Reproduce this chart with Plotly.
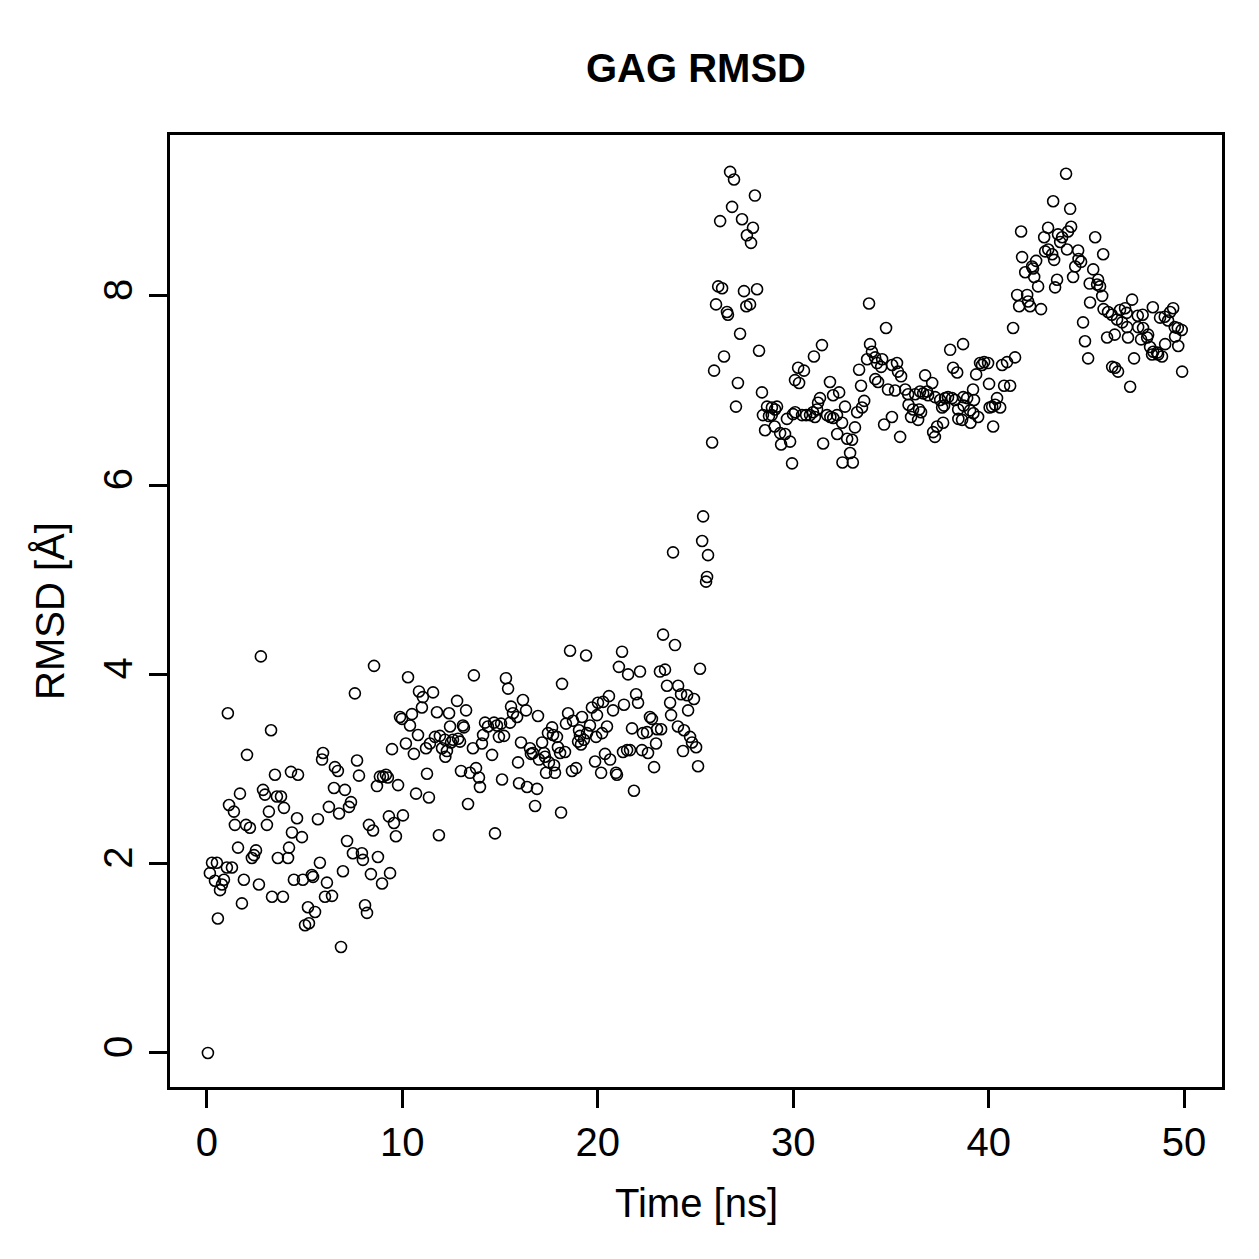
import plotly.graph_objects as go

# (time [ns], RMSD [Å]) pairs, grouped by time window
seg_00_05 = [(0.05,0.00),(0.15,1.90),(0.26,2.01),(0.41,1.82),(0.51,2.01),(0.56,1.42),(0.67,1.72),(0.77,1.78),(0.87,1.83),(1.02,1.96),
             (1.07,3.59),(1.13,2.62),(1.28,1.96),(1.38,2.55),(1.43,2.41),(1.59,2.17),(1.69,2.74),(1.79,1.58),(1.89,1.83),(2.00,2.41),
             (2.05,3.15),(2.20,2.38),(2.30,2.06),(2.41,2.09),(2.51,2.14),(2.66,1.78),(2.76,4.19),(2.87,2.78),(2.97,2.73),(3.07,2.41),
             (3.17,2.55),(3.28,3.41),(3.33,1.65),(3.48,2.94),(3.58,2.71),(3.63,2.06),(3.79,2.71),(3.89,1.65),(3.94,2.59),(4.15,2.06),
             (4.20,2.17),(4.30,2.97),(4.35,2.33),(4.45,1.83),(4.61,2.48),(4.66,2.94),(4.86,2.28),(4.91,1.83),(5.02,1.35)]
seg_05_10 = [(5.17,1.54),(5.22,1.37),(5.37,1.88),(5.43,1.86),(5.53,1.49),(5.68,2.47),(5.78,2.01),(5.89,3.10),(5.94,3.17),(6.04,1.65),
             (6.14,1.80),(6.24,2.60),(6.40,1.66),(6.50,2.80),(6.55,3.02),(6.70,2.98),(6.76,2.53),(6.86,1.12),(6.96,1.92),(7.06,2.78),
             (7.17,2.24),(7.27,2.60),(7.37,2.65),(7.47,2.11),(7.57,3.80),(7.68,3.09),(7.78,2.93),(7.93,2.11),(7.98,2.04),(8.09,1.56),
             (8.19,1.48),(8.29,2.41),(8.39,1.89),(8.50,2.35),(8.55,4.09),(8.70,2.82),(8.75,2.07),(8.85,2.92),(8.96,1.79),(9.01,2.92),
             (9.16,2.94),(9.26,2.91),(9.31,2.50),(9.37,1.90),(9.47,3.21),(9.57,2.43),(9.67,2.29),(9.78,2.83),(9.88,3.55),(9.98,3.53),
             (10.03,2.51)]
seg_10_15 = [(10.18,3.27),(10.29,3.97),(10.39,3.46),(10.49,3.58),(10.59,3.16),(10.70,2.74),(10.80,3.36),(10.85,3.82),(11.00,3.65),
             (11.05,3.76),(11.21,3.22),(11.26,2.95),(11.36,2.70),(11.41,3.27),(11.57,3.81),(11.67,3.34),(11.77,3.60),(11.87,2.30),
             (11.92,3.35),(12.03,3.22),(12.18,3.31),(12.20,3.13),(12.28,3.19),(12.39,3.59),(12.44,3.45),(12.49,3.28),(12.59,3.31),
             (12.80,3.72),(12.85,3.32),(12.95,3.29),(13.00,2.98),(13.10,3.46),(13.15,3.44),(13.26,3.62),(13.36,2.63),(13.46,2.96),
             (13.61,3.22),(13.66,3.99),(13.77,3.01),(13.92,2.91),(13.97,2.81),(14.07,3.27),(14.13,3.36),(14.23,3.49),(14.38,3.45),
             (14.59,3.15),(14.69,3.49),(14.74,2.32),(14.84,3.46),(14.94,3.34),(15.05,3.48),(15.10,2.89)]
seg_15_20 = [(15.20,3.35),(15.30,3.96),(15.41,3.85),(15.51,3.49),(15.56,3.66),(15.66,3.59),(15.87,3.55),(15.92,3.07),(15.97,2.85),
             (16.07,3.28),(16.17,3.73),(16.33,3.62),(16.38,2.81),(16.53,3.22),(16.58,3.16),(16.68,3.17),(16.79,2.61),(16.89,2.79),
             (16.94,3.56),(16.99,3.10),(17.15,3.28),(17.25,3.17),(17.30,3.13),(17.35,2.96),(17.45,3.38),(17.50,3.07),(17.66,3.44),
             (17.71,3.36),(17.76,3.04),(17.81,2.96),(17.91,3.34),(17.96,3.23),(18.07,3.17),(18.12,2.54),(18.17,3.90),(18.32,3.18),
             (18.37,3.48),(18.48,3.59),(18.58,4.25),(18.68,2.98),(18.73,3.51),(18.89,3.01),(18.99,3.29),(19.04,3.41),(19.09,3.35),
             (19.14,3.26),(19.19,3.55),(19.29,3.31),(19.40,4.20),(19.45,3.38),(19.60,3.46),(19.70,3.65),(19.86,3.08),(19.91,3.34),
             (19.96,3.57),(20.01,3.70)]
seg_20_26 = [(20.17,2.96),(20.22,3.38),(20.27,3.71),(20.37,3.16),(20.47,3.45),(20.57,3.77),(20.63,3.10),(20.78,3.62),(20.93,2.96),
             (20.98,2.94),(21.08,4.08),(21.24,4.24),(21.29,3.18),(21.34,3.68),(21.50,3.20),(21.55,4.00),(21.65,3.20),(21.75,3.43),
             (21.85,2.77),(21.96,3.79),(22.06,3.70),(22.16,4.03),(22.26,3.20),(22.31,3.38),(22.52,3.39),(22.57,3.17),(22.67,3.55),
             (22.77,3.53),(22.88,3.02),(22.98,3.27),(23.03,3.42),(23.18,4.03),(23.24,3.42),(23.34,4.42),(23.44,4.05),(23.54,3.88),
             (23.70,3.70),(23.75,3.57),(23.85,5.29),(23.95,4.31),(24.10,3.45),(24.11,3.88),(24.26,3.79),(24.36,3.19),(24.41,3.41),
             (24.57,3.78),(24.62,3.62),(24.72,3.34),(24.82,3.28),(24.92,3.74),(25.03,3.23),(25.13,3.03),(25.23,4.06),(25.34,5.41),
             (25.39,5.67),(25.54,4.98),(25.59,5.03),(25.64,5.26)]
seg_26_30 = [(25.85,6.45),(25.95,7.21),(26.05,7.91),(26.16,8.10),(26.26,8.79),(26.36,8.08),(26.46,7.36),(26.61,7.83),(26.66,7.80),
             (26.77,9.31),(26.87,8.94),(26.97,9.23),(27.07,6.83),(27.17,7.08),(27.28,7.60),(27.38,8.81),(27.48,8.05),(27.60,7.89),
             (27.63,8.64),(27.79,7.91),(27.84,8.56),(27.94,8.72),(28.04,9.06),(28.15,8.07),(28.25,7.42),(28.40,6.98),(28.45,6.74),
             (28.56,6.58),(28.66,6.83),(28.76,6.73),(28.90,6.74),(28.91,6.82),(29.05,6.62),(29.07,6.80),(29.17,6.83),(29.33,6.55),
             (29.38,6.43),(29.58,6.54),(29.68,6.70),(29.84,6.46),(29.94,6.23),(29.99,6.75)]
seg_30_35 = [(30.09,7.11),(30.10,6.77),(30.25,7.24),(30.30,7.08),(30.45,6.74),(30.55,7.21),(30.66,6.74),(30.86,6.74),(31.01,6.77),
             (31.06,7.36),(31.11,6.72),(31.22,6.80),(31.27,6.87),(31.37,6.92),(31.47,7.48),(31.53,6.44),(31.73,6.74),(31.88,7.09),
             (31.90,6.72),(32.04,6.95),(32.05,6.71),(32.24,6.74),(32.25,6.54),(32.35,6.98),(32.50,6.66),(32.52,6.24),(32.65,6.83),
             (32.76,6.49),(32.91,6.34),(33.01,6.48),(33.05,6.24),(33.16,6.61),(33.27,6.77),(33.37,7.22),(33.47,7.05),(33.52,6.82),
             (33.63,6.89),(33.78,7.33),(33.88,7.92),(33.93,7.49),(34.03,7.41),(34.19,7.35),(34.20,7.12),(34.29,7.29),(34.34,7.09),
             (34.50,7.25),(34.55,7.33),(34.65,6.64),(34.75,7.66),(34.85,7.01),(35.05,6.72),(35.06,7.27),(35.21,7.00),(35.31,7.29)]
seg_35_40 = [(35.36,7.20),(35.47,6.51),(35.52,7.15),(35.73,7.01),(35.88,6.96),(35.90,6.85),(36.03,6.72),(36.13,6.80),(36.24,6.96),
             (36.39,6.69),(36.44,6.80),(36.49,6.99),(36.54,6.77),(36.65,6.97),(36.75,7.16),(36.85,6.99),(36.90,6.95),(37.11,7.08),
             (37.16,6.56),(37.25,6.51),(37.26,6.93),(37.36,6.62),(37.52,6.90),(37.62,6.82),(37.67,6.66),(37.72,6.84),(37.77,6.92),
             (37.92,6.93),(38.03,7.43),(38.13,6.92),(38.18,7.24),(38.28,6.90),(38.39,7.19),(38.44,6.80),(38.45,6.70),(38.64,6.69),
             (38.69,7.49),(38.70,6.93),(38.72,6.84),(38.90,6.92),(39.05,6.79),(39.07,6.66),(39.20,7.01),(39.22,6.76),(39.25,6.90),
             (39.36,7.17),(39.46,6.72),(39.56,7.29),(39.66,7.27),(39.77,7.30),(39.97,7.29),(40.02,7.07),(40.05,6.82),(40.18,6.83),
             (40.23,6.62),(40.33,6.85),(40.43,6.92)]
seg_40_46 = [(40.59,6.82),(40.69,7.27),(40.79,7.05),(40.94,7.30),(41.10,7.05),(41.25,7.66),(41.35,7.35),(41.46,8.01),(41.56,7.89),
             (41.66,8.68),(41.71,8.41),(41.87,8.25),(41.97,8.01),(42.02,7.94),(42.12,7.89),(42.22,8.31),(42.27,8.29),(42.33,8.20),
             (42.43,8.37),(42.53,8.10),(42.68,7.86),(42.84,8.62),(42.89,8.47),(43.04,8.72),(43.05,8.49),(43.25,8.44),(43.30,9.00),
             (43.35,8.38),(43.40,8.09),(43.50,8.17),(43.55,8.65),(43.66,8.57),(43.76,8.62),(43.96,9.29),(44.01,8.49),(44.06,8.68),
             (44.17,8.92),(44.22,8.73),(44.32,8.20),(44.43,8.31),(44.58,8.48),(44.60,8.39),(44.73,8.36),(44.83,7.72),(44.93,7.52),
             (45.09,7.34),(45.17,8.13),(45.19,7.93),(45.35,8.28),(45.45,8.62),(45.55,8.12),(45.60,8.17),(45.70,8.10),(45.81,8.00),
             (45.86,8.44)]
seg_46_50 = [(45.88,7.86),(46.06,7.56),(46.11,7.83),(46.30,7.80),(46.32,7.25),(46.45,7.59),(46.47,7.24),(46.57,7.75),(46.62,7.20),
             (46.72,7.85),(46.83,7.72),(46.98,7.87),(47.06,7.82),(47.08,7.67),(47.13,7.56),(47.24,7.04),(47.34,7.96),(47.44,7.34),
             (47.63,7.79),(47.65,7.67),(47.80,7.54),(47.88,7.80),(47.90,7.66),(48.11,7.56),(48.16,7.59),(48.26,7.46),(48.36,7.38),
             (48.40,7.88),(48.42,7.41),(48.62,7.40),(48.67,7.38),(48.77,7.77),(48.87,7.36),(49.01,7.78),(49.03,7.49),(49.18,7.74),
             (49.29,7.83),(49.44,7.87),(49.52,7.67),(49.54,7.57),(49.68,7.66),(49.70,7.47),(49.88,7.64),(49.90,7.20)]

segments = [seg_00_05, seg_05_10, seg_10_15, seg_15_20, seg_20_26,
            seg_26_30, seg_30_35, seg_35_40, seg_40_46, seg_46_50]
time_ns = [p[0] for s in segments for p in s]
rmsd = [p[1] for s in segments for p in s]

x_ticks = [0, 10, 20, 30, 40, 50]
y_ticks = [0, 2, 4, 6, 8]

FONT = "Liberation Sans, Arial, Helvetica, sans-serif"

fig = go.Figure()
fig.add_trace(go.Scatter(
    x=time_ns, y=rmsd, mode="markers",
    marker=dict(symbol="circle-open", size=11, color="black", line=dict(width=1.6, color="black")),
    showlegend=False, hoverinfo="x+y",
))

axis_common = dict(
    showline=True, linecolor="black", linewidth=2.5, mirror=True,
    ticks="outside", ticklen=18, tickwidth=2.5, tickcolor="black",
    showgrid=False, zeroline=False,
    tickfont=dict(family=FONT, size=40, color="black"),
)

fig.update_layout(
    width=1259, height=1259,
    margin=dict(l=170, r=37, t=135, b=172),
    paper_bgcolor="white", plot_bgcolor="white",
    font=dict(family=FONT, color="black"),
    title=dict(text="<b>GAG RMSD</b>", x=0.5, xref="paper", xanchor="center",
               y=1 - 68 / 1259, yanchor="middle",
               font=dict(family=FONT, size=40, color="black")),
    xaxis=dict(range=[-1.89, 51.94], tickvals=x_ticks, ticktext=[str(v) for v in x_ticks],
               ticklabelstandoff=0, **axis_common),
    yaxis=dict(range=[-0.36, 9.70], tickvals=y_ticks, ticktext=[str(v) for v in y_ticks],
               tickangle=-90, ticklabelstandoff=1, **axis_common),
    annotations=[
        dict(text="Time [ns]", xref="paper", yref="paper", x=0.5, y=0,
             xanchor="center", yanchor="middle", yshift=-116, showarrow=False,
             font=dict(family=FONT, size=40, color="black")),
        dict(text="RMSD [Å]", xref="paper", yref="paper", x=0, y=0.5,
             xanchor="center", yanchor="middle", xshift=-120, textangle=-90, showarrow=False,
             font=dict(family=FONT, size=40, color="black")),
    ],
)

fig.write_html("out.html")
